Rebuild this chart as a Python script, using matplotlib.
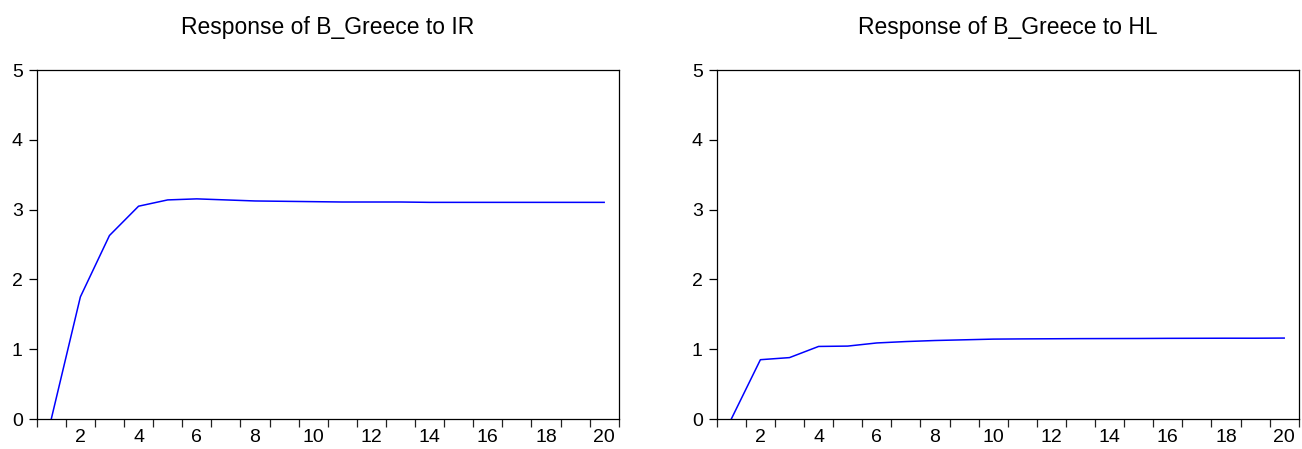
import numpy as np
import matplotlib
matplotlib.use("Agg")
import matplotlib.pyplot as plt
from matplotlib.ticker import FixedLocator

plt.rcParams['font.family'] = ['Liberation Sans', 'DejaVu Sans']

# Impulse responses (periods 1..20)
periods = list(range(1, 21))
resp_ir = [0.0, 1.75, 2.63, 3.05, 3.14, 3.155, 3.14, 3.125, 3.12, 3.115,
           3.11, 3.11, 3.11, 3.105, 3.105, 3.105, 3.105, 3.105, 3.105, 3.105]
resp_hl = [0.0, 0.85, 0.88, 1.04, 1.045, 1.09, 1.11, 1.125, 1.135, 1.145,
           1.148, 1.15, 1.152, 1.153, 1.154, 1.156, 1.157, 1.158, 1.158, 1.16]
titles = ["Response of B_Greece to IR", "Response of B_Greece to HL"]
series = [resp_ir, resp_hl]

fig = plt.figure(figsize=(13.02, 4.49), dpi=100)
lefts = [0.0282, 0.5505]
for left, title, vals in zip(lefts, titles, series):
    ax = fig.add_axes([left, 0.0668, 0.447, 0.777])
    ax.plot(periods, vals, color='#0000ff', lw=1.1)
    ax.set_xlim(0.5, 20.5)
    ax.set_ylim(0, 5)
    ax.set_yticks(range(0, 6))
    ax.set_xticks(range(2, 21, 2))
    ax.xaxis.set_minor_locator(FixedLocator(np.arange(0.5, 21, 1)))
    ax.tick_params(axis='x', which='major', length=0, pad=7, labelsize=14)
    ax.tick_params(axis='x', which='minor', length=6, width=0.9, color='#222222')
    ax.tick_params(axis='y', length=6, width=0.9, pad=4, labelsize=14)
    for s in ax.spines.values():
        s.set_linewidth(0.9)
    ax.set_title(title, fontsize=16.5, pad=26)

fig.savefig("out.png", dpi=100)
